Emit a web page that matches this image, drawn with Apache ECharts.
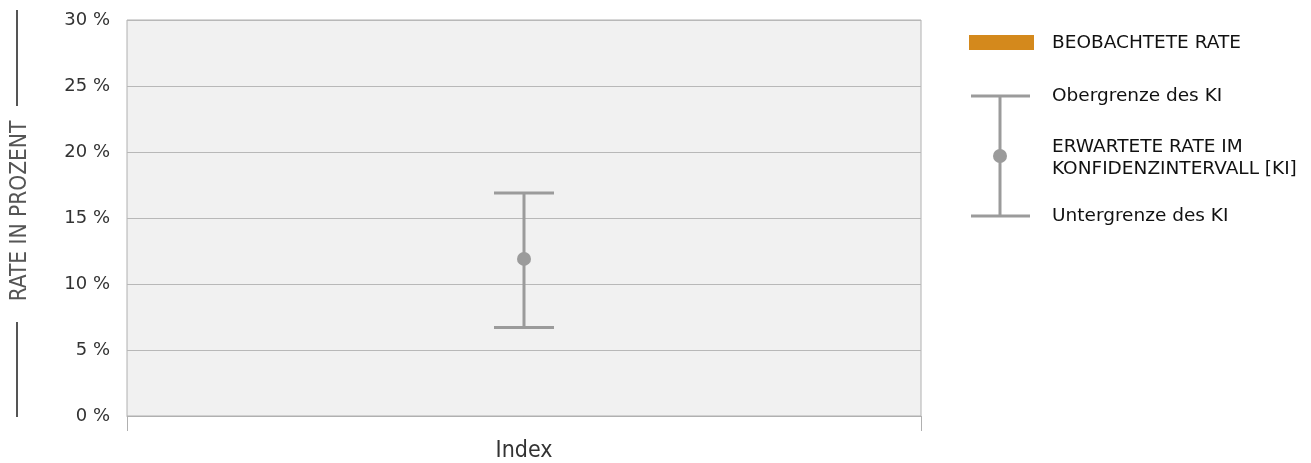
<!DOCTYPE html>
<html>
<head>
<meta charset="utf-8">
<script src="https://cdn.jsdelivr.net/npm/echarts@6/dist/echarts.min.js"></script>
<style>html,body{margin:0;padding:0;background:#fff}#c{width:1311px;height:463px}</style>
</head>
<body>
<div id="c"></div>
<script>
const categories = ['Index'];
const observedRate = [];          // no observed value shown
const ciLower = [6.7];
const expectedRate = [11.9];
const ciUpper = [16.9];
const yTicks = [0, 5, 10, 15, 20, 25, 30];
const yTitle = 'RATE IN PROZENT';

const GREY = '#9b9b9b';
const COND = '"DejaVu Sans Condensed", "Liberation Sans Narrow", sans-serif';
const chart = echarts.init(document.getElementById('c'), null, {renderer: 'canvas'});

const ciData = categories.map((c, i) => [i, ciLower[i], expectedRate[i], ciUpper[i]]);
const LF = '18.5px "DejaVu Sans"';

chart.setOption({
  animation: false,
  grid: {left: 127, right: 390, top: 20, bottom: 46, show: true, backgroundColor: '#f1f1f1', borderColor: '#b0b0b0', borderWidth: 1},
  xAxis: {
    type: 'category', data: categories,
    axisLine: {show: true, lineStyle: {color: '#b0b0b0'}},
    axisTick: {show: true, length: 15, lineStyle: {color: '#b0b0b0'}},
    axisLabel: {color: '#333', fontSize: 23, fontFamily: COND, margin: 24}
  },
  yAxis: {
    type: 'value', min: yTicks[0], max: yTicks[yTicks.length - 1], interval: 5,
    axisLine: {show: false}, axisTick: {show: false},
    splitLine: {lineStyle: {color: '#b8b8b8'}},
    axisLabel: {color: '#333', fontSize: 18, fontFamily: 'DejaVu Sans', margin: 17, formatter: v => v + ' %'}
  },
  series: [
    {type: 'bar', name: 'BEOBACHTETE RATE', data: observedRate, itemStyle: {color: '#d4891c'}},
    {
      type: 'custom', name: 'KI', data: ciData,
      renderItem: function (params, api) {
        const x = api.value(0);
        const lo = api.coord([x, api.value(1)]);
        const mid = api.coord([x, api.value(2)]);
        const hi = api.coord([x, api.value(3)]);
        const hw = 30;
        const st = {stroke: GREY, lineWidth: 3};
        return {type: 'group', children: [
          {type: 'line', shape: {x1: hi[0], y1: hi[1], x2: lo[0], y2: lo[1]}, style: st},
          {type: 'line', shape: {x1: hi[0] - hw, y1: hi[1], x2: hi[0] + hw, y2: hi[1]}, style: st},
          {type: 'line', shape: {x1: lo[0] - hw, y1: lo[1], x2: lo[0] + hw, y2: lo[1]}, style: st},
          {type: 'circle', shape: {cx: mid[0], cy: mid[1], r: 7}, style: {fill: GREY}}
        ]};
      }
    }
  ],
  graphic: [
    {type: 'text', x: 20, y: 211, rotation: Math.PI / 2, style: {text: yTitle, fill: '#555', font: '22.5px ' + COND, align: 'center', verticalAlign: 'middle'}},
    {type: 'line', shape: {x1: 17, y1: 10, x2: 17, y2: 106}, style: {stroke: '#555', lineWidth: 2}},
    {type: 'line', shape: {x1: 17, y1: 322, x2: 17, y2: 417}, style: {stroke: '#555', lineWidth: 2}},
    {type: 'rect', shape: {x: 969, y: 35, width: 65, height: 15}, style: {fill: '#d4891c'}},
    {type: 'line', shape: {x1: 971, y1: 96, x2: 1030, y2: 96}, style: {stroke: GREY, lineWidth: 3}},
    {type: 'line', shape: {x1: 971, y1: 216, x2: 1030, y2: 216}, style: {stroke: GREY, lineWidth: 3}},
    {type: 'line', shape: {x1: 1000, y1: 96, x2: 1000, y2: 216}, style: {stroke: GREY, lineWidth: 3}},
    {type: 'circle', shape: {cx: 1000, cy: 156, r: 7}, style: {fill: GREY}},
    {type: 'text', x: 1052, y: 43, style: {text: 'BEOBACHTETE RATE', fill: '#111', font: LF, verticalAlign: 'middle'}},
    {type: 'text', x: 1052, y: 96, style: {text: 'Obergrenze des KI', fill: '#111', font: LF, verticalAlign: 'middle'}},
    {type: 'text', x: 1052, y: 158, style: {text: 'ERWARTETE RATE IM\nKONFIDENZINTERVALL [KI]', fill: '#111', font: LF, lineHeight: 22, verticalAlign: 'middle'}},
    {type: 'text', x: 1052, y: 216, style: {text: 'Untergrenze des KI', fill: '#111', font: LF, verticalAlign: 'middle'}}
  ]
});
</script>
</body>
</html>
